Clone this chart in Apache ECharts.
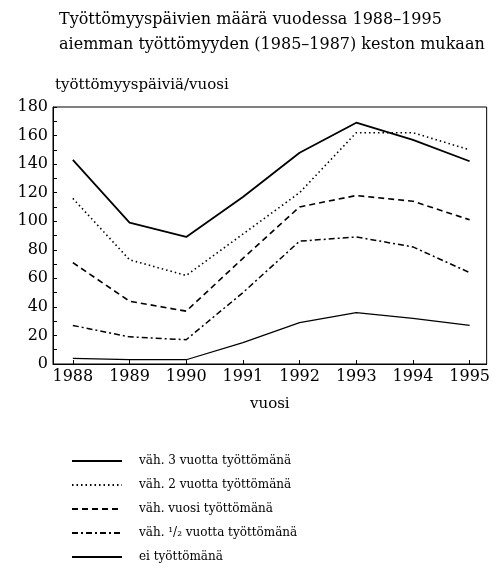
<!DOCTYPE html>
<html>
<head>
<meta charset="utf-8">
<script src="https://cdn.jsdelivr.net/npm/echarts@6/dist/echarts.min.js"></script>
<style>
  html, body { margin: 0; padding: 0; background: #fff; }
  #chart { width: 493px; height: 578px; }
</style>
</head>
<body>
<div id="chart"></div>
<script>
const years = [1988, 1989, 1990, 1991, 1992, 1993, 1994, 1995]
const yTicks = [0, 20, 40, 60, 80, 100, 120, 140, 160, 180]
const seriesNames = [
  'väh. 3 vuotta työttömänä',
  'väh. 2 vuotta työttömänä',
  'väh. vuosi työttömänä',
  'väh. ¹/₂ vuotta työttömänä',
  'ei työttömänä',
]
const vah3 = [143, 99, 89, 117, 148, 169, 157, 142]
const vah2 = [116, 73, 62, 91, 120, 162, 162, 150]
const vah1 = [71, 44, 37, 74, 110, 118, 114, 101]
const vahPuoli = [27, 19, 17, 50, 86, 89, 82, 64]
const ei = [4, 3, 3, 15, 29, 36, 32, 27]

const serif = 'DejaVu Serif'
const pairs = (vals) => years.map((y, i) => [y, vals[i]])

const chart = echarts.init(document.getElementById('chart'))

// one black line per group, only the dash pattern differs
const lineSeries = (name, vals, type, width) => ({
  name: name,
  type: 'line',
  data: pairs(vals),
  symbol: 'none',
  animation: false,
  itemStyle: { color: '#000' },
  lineStyle: { color: '#000', width: width, type: type },
})

const option = {
  backgroundColor: '#fff',
  title: {
    text: 'Työttömyyspäivien määrä vuodessa 1988–1995\naiemman työttömyyden (1985–1987) keston mukaan',
    left: 54,
    top: 2,
    textStyle: { fontFamily: serif, fontSize: 16, fontWeight: 'normal', color: '#000', lineHeight: 25 },
  },
  grid: {
    left: 53, right: 4, top: 107, bottom: 214,
    show: true, borderColor: '#000', borderWidth: 1,
  },
  legend: {
    orient: 'vertical',
    left: 66,
    top: 450,
    itemWidth: 50,
    itemHeight: 14,
    itemGap: 12,
    data: seriesNames,
    itemStyle: { opacity: 0 }, // hide the dot, keep the line sample
    textStyle: { fontFamily: serif, fontSize: 12, color: '#000', padding: [0, 0, 0, 12] },
  },
  xAxis: {
    type: 'value',
    min: 1987.65,
    max: 1995.3,
    name: 'vuosi',
    nameLocation: 'middle',
    nameGap: 33,
    nameTextStyle: { fontFamily: serif, fontSize: 15, color: '#000' },
    splitLine: { show: false },
    axisLine: { lineStyle: { color: '#000', width: 1 } },
    axisTick: { inside: true, length: 4, customValues: years, lineStyle: { color: '#000' } },
    axisLabel: {
      customValues: years,
      fontFamily: serif, fontSize: 16, color: '#000', margin: 5,
      formatter: (v) => String(v),
    },
  },
  yAxis: {
    type: 'value',
    min: 0,
    max: 180,
    interval: 20,
    name: 'työttömyyspäiviä/vuosi',
    nameGap: 14,
    nameTextStyle: { fontFamily: serif, fontSize: 15, color: '#000', align: 'left', padding: [0, 0, 0, 2] },
    splitLine: { show: false },
    axisLine: { show: true, lineStyle: { color: '#000', width: 1 } },
    axisTick: { inside: true, length: 4, lineStyle: { color: '#000' } },
    minorTick: { show: true, splitNumber: 2, length: 4, lineStyle: { color: '#000' } },
    axisLabel: {
      customValues: yTicks,
      fontFamily: serif, fontSize: 16, color: '#000', margin: 5,
    },
  },
  series: [
    lineSeries(seriesNames[0], vah3, 'solid', 1.8),
    lineSeries(seriesNames[1], vah2, [1.5, 3], 1.6),
    lineSeries(seriesNames[2], vah1, [6, 4], 1.6),
    lineSeries(seriesNames[3], vahPuoli, [6, 3, 2, 3], 1.5),
    lineSeries(seriesNames[4], ei, 'solid', 1.2),
  ],
}

chart.setOption(option)
</script>
</body>
</html>
